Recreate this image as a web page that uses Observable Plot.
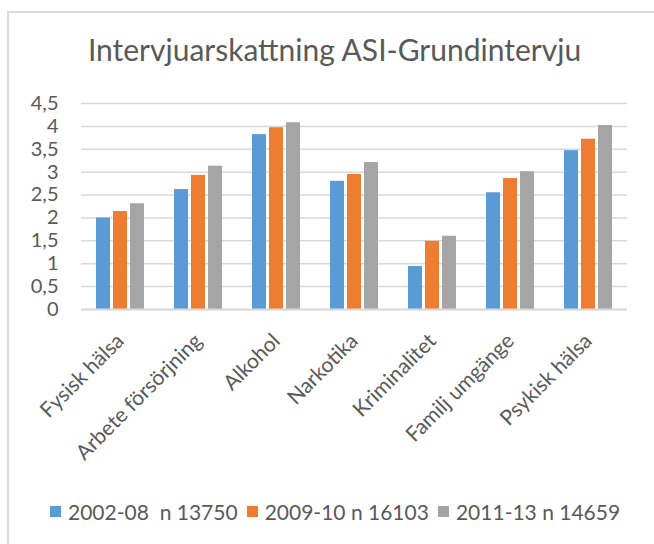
<!DOCTYPE html>
<html>
<head>
<meta charset="utf-8">
<script src="https://cdn.jsdelivr.net/npm/d3@7"></script>
<script src="https://cdn.jsdelivr.net/npm/@observablehq/plot@0.6"></script>
<style>
  html, body { margin: 0; padding: 0; background: #fff; }
  #wrap { position: relative; width: 654px; height: 544px; overflow: hidden; font-family: Lato, "Open Sans", sans-serif; color: #595959; }
  #frame { position: absolute; left: 7px; top: 11px; width: 720px; height: 620px; border: 2px solid #d9d9d9; box-sizing: border-box; }
  #title { position: absolute; top: 31px; left: 0; width: 669px; text-align: center; font-size: 30px; white-space: nowrap; }
  #chart { position: absolute; left: 0; top: 80px; }
  #legend { position: absolute; top: 499px; left: 50px; font-size: 21px; white-space: pre; display: flex; align-items: center; }
  #legend .sw { display: inline-block; width: 11px; height: 11px; margin-right: 7px; }
  #legend .item { display: flex; align-items: center; margin-right: 9px; }
</style>
</head>
<body>
<div id="wrap">
  <div id="frame"></div>
  <div id="title">Intervjuarskattning ASI-Grundintervju</div>
  <div id="chart"></div>
  <div id="legend"></div>
</div>
<script>
const categories = ["Fysisk hälsa", "Arbete försörjning", "Alkohol", "Narkotika", "Kriminalitet", "Familj umgänge", "Psykisk hälsa"];
const series = ["2002-08  n 13750", "2009-10 n 16103", "2011-13 n 14659"];
const colors = ["#5b9bd5", "#ed7d31", "#a5a5a5"];
const v2002_08 = [2.00, 2.62, 3.82, 2.80, 0.94, 2.55, 3.47];
const v2009_10 = [2.14, 2.93, 3.97, 2.95, 1.49, 2.86, 3.72];
const v2011_13 = [2.31, 3.13, 4.08, 3.21, 1.60, 3.01, 4.02];
const yTicks = [0, 0.5, 1, 1.5, 2, 2.5, 3, 3.5, 4, 4.5];

const valueSets = [v2002_08, v2009_10, v2011_13];
const data = [];
categories.forEach((c, i) => {
  series.forEach((s, j) => data.push({category: c, series: s, value: valueSets[j][i]}));
});

const fmt = d => String(d).replace(".", ",");

const chart = Plot.plot({
  width: 654,
  height: 400,
  marginLeft: 78,
  marginRight: 25,
  marginTop: 23,
  marginBottom: 171,
  style: { fontFamily: "Lato, 'Open Sans', sans-serif", fontSize: "20px", color: "#595959", background: "transparent" },
  fx: { domain: categories, padding: 0, label: null },
  x: { domain: series, paddingInner: 0.2, paddingOuter: 0.836, axis: null },
  y: { domain: [0, 4.5], ticks: yTicks, label: null },
  color: { domain: series, range: colors },
  marks: [
    Plot.gridY(yTicks, { stroke: "#d9d9d9", strokeOpacity: 1, strokeWidth: 1.5 }),
    Plot.axisY(yTicks, { tickSize: 0, tickPadding: 0, dx: -23, tickFormat: fmt, label: null, fontSize: 20 }),
    Plot.barY(data, { fx: "category", x: "series", y: "value", fill: "series" }),
    Plot.ruleY([0], { stroke: "#d9d9d9", strokeWidth: 2 }),
    Plot.axisFx({ anchor: "bottom", tickSize: 0, tickRotate: -45, tickPadding: 28, label: null, fontSize: 21 })
  ]
});
document.getElementById("chart").appendChild(chart);

const legend = document.getElementById("legend");
series.forEach((s, j) => {
  const item = document.createElement("div");
  item.className = "item";
  const sw = document.createElement("span");
  sw.className = "sw";
  sw.style.background = colors[j];
  const t = document.createElement("span");
  t.textContent = s;
  item.appendChild(sw);
  item.appendChild(t);
  legend.appendChild(item);
});
</script>
</body>
</html>
